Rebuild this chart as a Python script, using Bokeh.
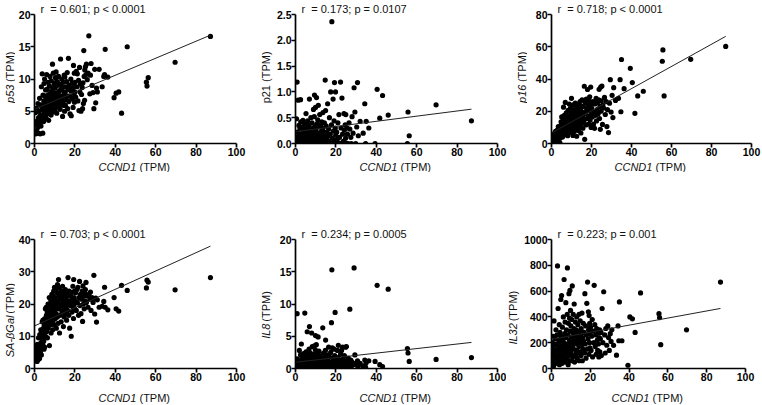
from math import pi
from bokeh.plotting import figure
from bokeh.layouts import row, column
from bokeh.models import Range1d, FixedTicker, NumeralTickFormatter, Label
from bokeh.embed import file_html
from bokeh.resources import INLINE

# ---------------- data ----------------
ccnd1 = [0.2, 0.4, 0.5, 0.7, 0.8, 1.0, 1.1, 1.3, 1.4, 1.6, 1.7, 1.9, 2.0, 2.2, 2.3, 2.5, 2.6, 2.8, 2.9, 3.1,
         3.2, 3.4, 3.5, 3.7, 3.8, 4.0, 4.1, 4.2, 4.4, 4.5, 4.6, 4.7, 4.8, 4.9,
         5.0, 5.1, 5.2, 5.4, 5.5, 5.6, 5.8, 5.9, 6.0, 6.1, 6.3, 6.4, 6.5, 6.7, 6.8, 6.9, 7.0, 7.2, 7.3, 7.4,
         7.6, 7.7, 7.8, 8.0, 8.1, 8.2, 8.3, 8.5, 8.6, 8.7, 8.9, 9.0, 9.1, 9.2, 9.3, 9.4, 9.5, 9.6, 9.7, 9.8, 9.9,
         10.0, 10.1, 10.3, 10.4, 10.5, 10.7, 10.8, 10.9, 11.0, 11.2, 11.3, 11.4, 11.6, 11.7, 11.9, 12.0, 12.1, 12.3, 12.4, 12.6,
         12.7, 12.9, 13.0, 13.2, 13.3, 13.5, 13.6, 13.8, 13.9, 14.1, 14.2, 14.3, 14.5, 14.6, 14.7, 14.8, 14.9,
         15.0, 15.2, 15.3, 15.5, 15.7, 15.9, 16.0, 16.2, 16.4, 16.6, 16.8, 17.0, 17.2, 17.4, 17.6, 17.8, 18.0, 18.2, 18.4, 18.6,
         18.8, 19.0, 19.1, 19.3, 19.4, 19.6, 19.7, 19.8, 19.9,
         20.1, 20.4, 20.7, 21.0, 21.2, 21.5, 21.8, 22.0, 22.3, 22.5, 22.8, 23.0, 23.3, 23.6, 23.8, 24.0, 24.2, 24.4, 24.6, 24.8, 24.9,
         25.2, 25.5, 25.7, 26.1, 26.5, 26.9, 27.4, 27.7, 28.0, 28.5, 29.0, 29.4, 29.8,
         30.3, 30.7, 31.1, 32.0, 33.5, 34.3, 34.7, 35.0, 36.3, 39.4,
         40.4, 41.7, 43.1, 45.9, 55.4, 55.7, 56.3, 69.6, 87.1]

p53 = [3.0, 1.6, 4.8, 1.5, 3.2, 2.0, 5.5, 1.7, 3.5, 2.5, 6.2, 1.6, 4.0, 2.9, 5.0, 7.0, 3.3, 1.5, 4.4, 6.0,
       2.7, 8.8, 3.8, 5.6, 10.8, 4.3, 1.6, 7.5, 5.2, 3.4, 6.6, 9.3, 4.7, 5.9,
       10.0, 7.4, 4.2, 6.3, 8.3, 5.0, 3.9, 7.0, 10.7, 5.6, 8.4, 4.6, 6.8, 9.5, 5.3, 7.6, 3.6, 6.0, 8.9, 7.2,
       4.9, 10.4, 6.5, 5.8, 8.0, 4.4, 9.7, 7.0, 5.5, 6.2, 12.3, 8.6, 4.9, 7.5, 10.9, 6.7, 5.2, 9.0, 7.9, 6.1, 9.4,
       6.9, 8.6, 5.4, 10.2, 7.3, 11.1, 6.2, 8.9, 4.7, 7.8, 9.6, 6.5, 7.7, 5.8, 10.4, 8.1, 6.8, 9.2, 6.4, 7.4,
       5.3, 13.1, 8.4, 9.1, 7.0, 10.0, 6.0, 8.7, 4.2, 7.2, 9.5, 6.6, 8.0, 5.9, 10.6, 7.6, 5.0,
       10.3, 7.9, 5.9, 8.8, 6.8, 9.6, 7.3, 11.0, 5.4, 8.4, 13.2, 6.5, 9.0, 7.4, 4.6, 8.2, 10.0, 4.3, 6.9, 9.4,
       7.0, 8.6, 5.6, 12.1, 9.3, 7.7, 10.9, 6.4, 8.0,
       9.5, 7.2, 11.2, 8.8, 10.8, 6.6, 9.8, 5.1, 11.8, 8.0, 9.2, 5.0, 7.6, 8.7, 5.4, 9.4, 6.2, 14.4, 10.4, 6.7, 11.4,
       11.9, 10.7, 12.3, 9.9, 10.9, 16.7, 7.7, 10.6, 12.4, 9.0, 7.9, 5.4, 11.5,
       6.3, 8.6, 8.0, 11.5, 8.8, 10.4, 10.7, 14.6, 10.3, 7.1,
       7.8, 8.0, 4.7, 15.0, 9.5, 8.9, 10.2, 12.6, 16.6]

p21 = [0.12, 0.0, 0.48, 0.05, 1.19, 0.0, 0.22, 0.84, 0.0, 0.15, 0.35, 0.0, 0.08, 0.28, 0.0, 0.85, 0.42, 0.0, 0.18, 0.05,
       0.32, 0.0, 0.12, 0.45, 0.0, 0.25, 0.02, 0.10, 0.0, 0.38, 0.16, 0.0, 0.28, 0.06,
       0.0, 0.20, 0.58, 0.08, 0.0, 0.32, 0.14, 0.0, 0.44, 0.04, 0.24, 0.0, 0.12, 0.36, 0.0, 0.86, 0.18, 0.0, 0.06, 0.28,
       0.50, 0.0, 0.10, 0.22, 0.0, 0.40, 0.03, 0.16, 0.0, 0.30, 0.66, 0.08, 0.0, 0.20, 0.52, 0.94, 0.12, 0.0, 0.34, 0.05, 0.70,
       0.0, 0.26, 0.10, 0.89, 0.0, 0.38, 0.15, 0.02, 0.46, 0.0, 0.74, 0.20, 0.08, 0.0, 0.32, 0.56, 0.0, 0.14, 0.36, 0.04,
       0.0, 0.24, 0.42, 0.0, 0.10, 0.30, 0.60, 0.0, 0.18, 0.06, 0.0, 0.40, 0.22, 0.0, 1.23, 0.12, 0.64,
       0.0, 0.34, 0.08, 0.20, 0.0, 0.77, 0.14, 0.0, 0.28, 0.04, 0.50, 0.0, 0.18, 1.00, 0.0, 0.36, 2.36, 0.10, 0.0, 0.86,
       0.24, 0.0, 0.44, 1.18, 0.06, 0.0, 0.30, 1.00, 0.16,
       0.0, 0.22, 0.08, 0.40, 0.0, 0.56, 0.12, 0.0, 1.19, 0.30, 0.0, 0.88, 0.18, 0.04, 0.0, 0.58, 0.26, 0.0, 0.36, 0.10, 0.56,
       0.0, 0.30, 0.18, 0.0, 0.40, 0.28, 0.12, 0.0, 0.52, 0.20, 1.08, 0.61, 0.0,
       0.32, 1.18, 0.15, 0.43, 0.20, 0.77, 0.0, 0.43, 0.30, 0.0,
       1.05, 0.49, 0.93, 0.55, 0.0, 0.61, 0.15, 0.75, 0.44]

p16 = [0.5, 2.2, 1.0, 4.5, 0.3, 3.0, 6.0, 1.5, 2.8, 0.8, 5.2, 3.6, 7.5, 2.0, 4.2, 0.6, 6.5, 3.2, 8.3, 5.0,
       1.8, 10.5, 4.0, 7.0, 2.6, 9.0, 5.6, 0.4, 11.0, 6.8, 3.8, 8.0, 13.5, 5.3,
       9.8, 16.5, 6.2, 12.0, 4.0, 8.6, 14.0, 10.5, 22.5, 7.2, 11.5, 17.5, 5.5, 13.0, 9.2, 25.5, 15.0, 7.8, 11.0, 19.0,
       6.0, 13.8, 9.0, 16.0, 4.8, 12.5, 20.5, 8.2, 14.5, 10.8, 24.5, 6.8, 17.0, 12.0, 9.5, 15.5, 22.0, 7.5, 13.2, 18.5, 11.0,
       28.0, 14.0, 8.5, 19.5, 12.0, 5.0, 16.5, 24.0, 10.0, 13.5, 21.0, 7.5, 17.0, 11.5, 25.0, 15.0, 9.0, 19.0, 13.0, 4.5,
       22.5, 16.0, 11.0, 20.0, 14.5, 8.0, 24.5, 17.5, 12.5, 21.5, 10.5, 26.0, 15.5, 18.5, 6.5, 23.0, 13.5,
       20.0, 12.5, 27.0, 16.0, 9.5, 23.0, 18.0, 14.0, 35.5, 2.6, 25.5, 19.5, 11.5, 27.5, 21.5, 15.5, 33.5, 24.0, 17.0, 12.0,
       26.5, 20.5, 29.0, 14.5, 23.5, 35.0, 18.0, 10.0, 25.0,
       22.0, 16.5, 26.0, 12.0, 19.5, 9.4, 24.5, 17.5, 28.0, 14.0, 21.0, 25.5, 18.5, 27.0, 33.6, 15.5, 23.0, 8.8, 35.0, 20.0, 26.5,
       35.6, 11.8, 24.0, 22.0, 28.6, 18.0, 26.0, 10.5, 21.0, 6.8, 25.0, 39.6, 19.5,
       29.9, 16.1, 34.6, 26.7, 28.0, 39.6, 19.7, 52.1, 34.0, 46.6,
       37.8, 18.7, 29.5, 32.4, 51.0, 58.0, 29.5, 52.2, 60.2]

sa_bgal = [3.5, 5.0, 2.5, 4.0, 6.5, 3.0, 4.8, 2.2, 7.5, 3.8, 5.5, 2.8, 9.5, 4.4, 6.2, 3.1, 10.5, 7.0, 5.0, 12.0,
           8.0, 4.2, 11.0, 6.5, 14.5, 9.0, 7.6, 15.0, 10.0, 12.5, 8.5, 6.0, 13.5, 11.5,
           6.6, 15.5, 12.0, 18.5, 10.0, 14.0, 19.0, 16.5, 11.5, 13.0, 17.5, 9.5, 15.0, 20.0, 12.5, 16.0, 18.0, 14.5, 22.0, 7.1,
           17.0, 13.5, 19.5, 15.5, 21.0, 11.0, 18.0, 16.8, 23.0, 14.0, 20.5, 12.0, 17.5, 22.5, 15.0, 19.0, 24.0, 16.0, 21.5, 13.5, 25.2,
           18.0, 22.0, 15.5, 20.0, 24.5, 17.0, 12.5, 21.0, 19.0, 23.5, 16.0, 26.0, 20.5, 14.0, 27.6, 22.5, 18.5, 25.0, 11.0, 21.5,
           16.5, 23.0, 19.5, 14.5, 24.0, 20.0, 17.5, 22.0, 25.5, 18.0, 21.0, 13.0, 23.5, 19.0, 16.0, 22.5, 20.5,
           21.5, 17.0, 24.5, 19.0, 22.0, 15.0, 20.0, 23.0, 18.0, 28.2, 21.0, 16.5, 24.0, 12.5, 19.5, 22.5, 20.5, 10.0, 23.5, 17.5,
           21.5, 25.5, 19.0, 15.5, 27.6, 22.0, 20.0, 24.0, 18.5,
           21.0, 23.5, 18.0, 24.5, 20.5, 25.2, 16.5, 22.0, 27.0, 19.5, 23.0, 17.0, 21.5, 24.0, 14.6, 25.6, 20.0, 22.5, 18.5, 23.5, 21.0,
           24.5, 26.7, 20.5, 22.5, 19.0, 23.0, 21.5, 23.7, 18.0, 22.0, 20.5, 28.9, 16.9,
           21.8, 14.4, 21.3, 19.0, 19.3, 20.8, 25.2, 19.0, 18.2, 22.0,
           18.5, 17.8, 25.8, 24.2, 25.0, 27.4, 26.8, 24.4, 28.2]

il8 = [0.3, 0.8, 0.1, 1.5, 8.5, 0.5, 0.2, 1.0, 0.4, 0.0, 0.7, 2.8, 0.2, 1.2, 0.5, 2.1, 0.1, 0.9, 3.8, 0.3,
       1.6, 0.6, 0.0, 1.1, 0.4, 2.3, 0.2, 0.8, 1.4, 0.1, 8.6, 0.5, 1.8, 0.3,
       1.0, 0.2, 2.6, 0.6, 1.5, 0.1, 5.7, 0.9, 0.3, 2.0, 0.7, 1.2, 0.0, 3.0, 0.5, 6.5, 1.7, 0.2, 0.9, 2.4,
       0.4, 1.3, 0.1, 5.5, 0.8, 1.9, 3.4, 0.3, 1.1, 0.6, 2.2, 0.2, 1.4, 0.7, 3.5, 0.4, 1.8, 0.1, 0.9, 2.9, 5.1,
       0.5, 1.6, 3.7, 0.2, 1.0, 0.6, 2.3, 0.1, 1.3, 4.9, 0.4, 0.8, 2.7, 0.2, 1.5, 0.7, 1.9, 0.3, 1.1, 0.0,
       2.0, 0.5, 1.2, 0.8, 0.2, 6.3, 1.4, 0.4, 2.4, 0.9, 0.1, 1.7, 0.6, 1.0, 0.3, 2.8, 4.4,
       0.7, 1.5, 0.2, 2.1, 0.9, 0.4, 1.3, 0.1, 3.3, 0.6, 1.8, 0.3, 1.0, 2.5, 0.5, 7.1, 15.3, 3.2, 0.8, 1.6,
       0.2, 1.2, 3.0, 0.4, 2.0, 8.7, 0.9, 1.4, 0.3,
       1.1, 0.4, 2.8, 1.7, 3.6, 0.6, 1.3, 0.2, 2.2, 0.9, 2.8, 0.5, 3.3, 1.5, 0.3, 1.0, 2.0, 0.6, 1.2, 3.3, 0.4,
       3.4, 1.0, 0.3, 1.6, 0.7, 9.2, 1.3, 0.4, 1.0, 0.6, 15.6, 2.1, 0.8,
       0.5, 1.2, 0.3, 0.8, 0.4, 1.3, 0.2, 0.9, 1.2, 1.1,
       12.9, 0.6, 0.3, 12.3, 3.1, 2.4, 1.1, 1.4, 1.7]

il32 = [160, 90, 200, 50, 130, 250, 20, 369, 110, 180, 70, 230, 140, 40, 300, 100, 190, 60, 260, 795,
        150, 465, 80, 220, 120, 340, 30, 170, 280, 90, 210, 140, 535, 60,
        250, 110, 565, 180, 40, 320, 150, 230, 70, 400, 130, 200, 690, 90, 270, 160, 360, 50, 240, 510,
        120, 300, 190, 80, 420, 780, 140, 260, 30, 350, 170, 580, 100, 220, 390, 60, 605, 290, 150, 450, 200,
        330, 120, 240, 60, 380, 640, 180, 280, 90, 420, 210, 150, 310, 500, 50, 260, 190, 360, 110, 230,
        300, 140, 400, 80, 270, 200, 340, 120, 250, 170, 420, 60, 290, 220, 130, 370, 190,
        260, 100, 310, 180, 430, 60, 240, 150, 350, 210, 280, 120, 580, 190, 330, 80, 260, 505, 150, 670,
        230, 440, 300, 110, 410, 200, 350, 160, 270,
        320, 140, 250, 380, 90, 290, 200, 645, 340, 170, 260, 110, 310, 220, 140, 280, 190, 90, 240, 300, 130,
        230, 280, 100, 465, 200, 595, 260, 120, 310, 180, 330, 240, 140,
        270, 210, 300, 180, 103, 330, 215, 516, 215, 25,
        400, 385, 280, 586, 425, 395, 185, 300, 670]

# regression lines (intercept, slope)
fit_intercept = [5.3, 0.23, 6.5, 13.2, 0.97, 226]
fit_slope = [0.132, 0.0050, 0.688, 0.284, 0.0353, 2.75]

stats_text = ["r\u00a0 = 0.601; p < 0.0001", "r\u00a0 = 0.173; p = 0.0107", "r\u00a0 = 0.718; p < 0.0001",
              "r\u00a0 = 0.703; p < 0.0001", "r\u00a0 = 0.234; p = 0.0005", "r\u00a0 = 0.223; p = 0.001"]
gene_names = ["p53", "p21", "p16", "SA-\u03b2Gal", "IL8", "IL32"]
gene_italic = [True, False, True, True, True, True]
y_max = [20, 2.5, 80, 40, 20, 1000]
y_ticks = [[0, 5, 10, 15, 20], [0, 0.5, 1.0, 1.5, 2.0, 2.5], [0, 20, 40, 60, 80],
           [0, 10, 20, 30, 40], [0, 5, 10, 15, 20], [0, 200, 400, 600, 800, 1000]]
y_format = ["0", "0.0", "0", "0", "0", "0"]
x_ticks = [0, 20, 40, 60, 80, 100]
series = [p53, p21, p16, sa_bgal, il8, il32]

FONT = "Liberation Sans"
FS = 11.0  # px
TXT = "#111111"

def text_w(s):
    w = {"p": .556, "5": .556, "3": .556, "2": .556, "1": .556, "6": .556, "8": .556,
         "S": .667, "A": .667, "-": .333, "\u03b2": .575, "G": .778, "a": .556, "l": .222,
         "I": .278, "L": .556, "C": .722, "N": .722, "D": .722, " ": .278}
    return sum(w.get(c, .6) for c in s) * FS

# panel geometry: width, height, border left, right, top, bottom
geom = [
    (244, 160, 19, 23, 13, 17),
    (242, 160, 22, 18, 13, 17),
    (234, 160, 24, 10, 13, 17),
    (244, 214, 19, 23, 61, 17),
    (233, 214, 22, 9, 61, 17),
    (241, 214, 31, 16, 67, 18),
]
# y-title strips: width, x centre of the text
ystrip = [(15, 9.5), (14, 6.5), (12, 6.0), (15, 9.5), (14, 6.0), (14, 6.5)]


def make_panel(i):
    w, h, bl, br, bt, bb = geom[i]
    ymax = y_max[i]
    p = figure(width=w, height=h, output_backend="svg", toolbar_location=None,
               x_range=Range1d(0, 100), y_range=Range1d(0, ymax),
               min_border_left=bl, min_border_right=br, min_border_top=bt, min_border_bottom=bb)
    p.outline_line_color = None
    p.xgrid.visible = False
    p.ygrid.visible = False
    p.background_fill_color = "white"
    p.border_fill_color = "white"
    for ax in (p.xaxis[0], p.yaxis[0]):
        ax.axis_line_width = 1.7
        ax.axis_line_color = "black"
        ax.major_tick_line_width = 1.7
        ax.major_tick_line_color = "black"
        ax.major_tick_out = 4
        ax.major_tick_in = 0
        ax.minor_tick_line_color = None
        ax.major_label_text_font = FONT
        ax.major_label_text_font_style = "bold"
        ax.major_label_text_font_size = "10.5px"
        ax.major_label_text_color = "black"
        ax.major_label_standoff = 0
    p.xaxis.ticker = FixedTicker(ticks=x_ticks)
    p.yaxis.ticker = FixedTicker(ticks=y_ticks[i])
    p.xaxis.formatter = NumeralTickFormatter(format="0")
    p.yaxis.formatter = NumeralTickFormatter(format=y_format[i])

    # statistics text as the figure title (lives in the top border, not clipped)
    p.title.text = stats_text[i]
    p.title.align = "left"
    p.title.offset = 6
    p.title.standoff = 0
    p.title.text_font = FONT
    p.title.text_font_size = "11px"
    p.title.text_font_style = "normal"
    p.title.text_color = TXT

    ys = series[i]
    p.scatter(ccnd1, ys, size=5.2, marker="circle", fill_color="black", line_color=None)

    x0, x1 = min(ccnd1), max(ccnd1)
    a, b = fit_intercept[i], fit_slope[i]
    p.line([x0, x1], [a + b * x0, a + b * x1], line_color="#222222", line_width=1)
    return p


def blank(w, h):
    f = figure(width=w, height=h, output_backend="svg", toolbar_location=None,
               x_range=Range1d(0, w), y_range=Range1d(0, h), x_axis_type=None, y_axis_type=None,
               min_border=0, min_border_left=0, min_border_right=0, min_border_top=0, min_border_bottom=0)
    f.outline_line_color = None
    f.background_fill_color = "white"
    f.border_fill_color = "white"
    return f


def y_title(i):
    w, h, bl, br, bt, bb = geom[i]
    sw, cx = ystrip[i]
    f = blank(sw, h)
    cy = bb + (h - bt - bb) / 2.0
    g = gene_names[i]
    if gene_italic[i]:
        j = (text_w(g) - text_w(" (TPM)")) / 2.0
        f.add_layout(Label(x=cx, y=cy + j, angle=pi / 2, text=g, text_font=FONT, text_font_size="11px",
                           text_font_style="italic", text_color=TXT, text_align="right", text_baseline="middle"))
        f.add_layout(Label(x=cx, y=cy + j + 0.278 * FS, angle=pi / 2, text="(TPM)", text_font=FONT,
                           text_font_size="11px", text_color=TXT, text_align="left", text_baseline="middle"))
    else:
        f.add_layout(Label(x=cx, y=cy, angle=pi / 2, text=g + " (TPM)", text_font=FONT, text_font_size="11px",
                           text_color=TXT, text_align="center", text_baseline="middle"))
    return f


def x_titles(idx, total_w, h, ty):
    f = blank(total_w, h)
    left = 0
    j = (text_w("CCND1") - text_w(" (TPM)")) / 2.0
    for i in idx:
        sw, _ = ystrip[i]
        w, _, bl, br, _, _ = geom[i]
        cx = left + sw + bl + (w - bl - br) / 2.0
        f.add_layout(Label(x=cx + j, y=ty, text="CCND1", text_font=FONT, text_font_size="11px",
                           text_font_style="italic", text_color=TXT, text_align="right", text_baseline="middle"))
        f.add_layout(Label(x=cx + j + 0.278 * FS, y=ty, text="(TPM)", text_font=FONT, text_font_size="11px",
                           text_color=TXT, text_align="left", text_baseline="middle"))
        left += sw + w
    return f


panels = [make_panel(i) for i in range(6)]
ytitles = [y_title(i) for i in range(6)]
row1 = row(ytitles[0], panels[0], ytitles[1], panels[1], ytitles[2], panels[2], spacing=0)
row2 = row(ytitles[3], panels[3], ytitles[4], panels[4], ytitles[5], panels[5], spacing=0)
xt1 = x_titles([0, 1, 2], 761, 12, 6.0)
xt2 = x_titles([3, 4, 5], 761, 18, 6.5)
layout = column(row1, xt1, row2, xt2, spacing=0)

open("out.html", "w").write(file_html(layout, INLINE))
